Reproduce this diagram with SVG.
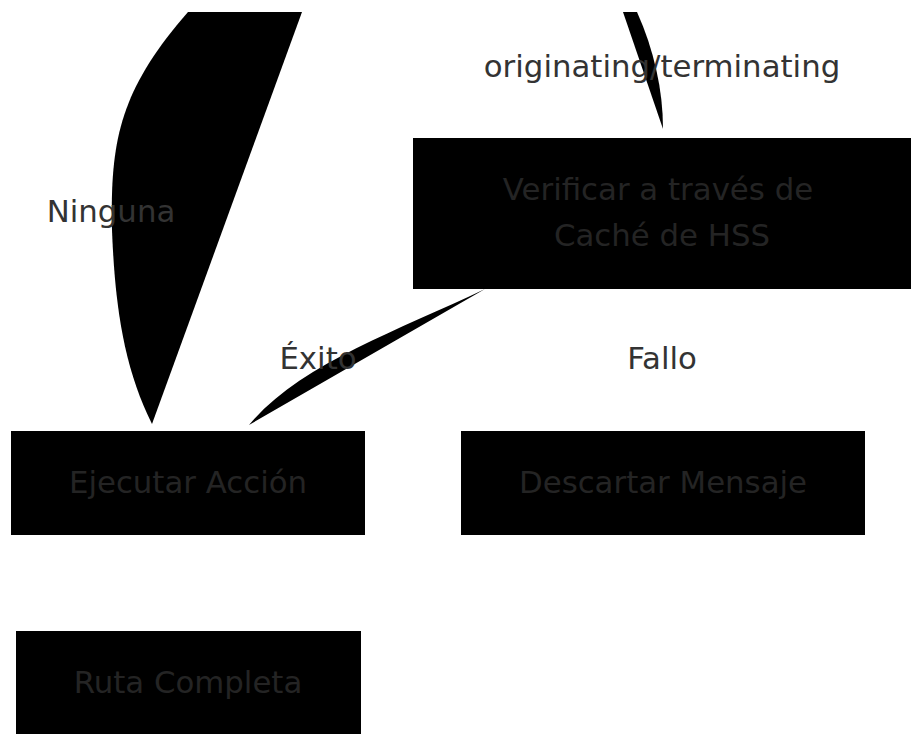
<svg xmlns="http://www.w3.org/2000/svg" width="911" height="734" viewBox="0 0 911 734">
<style>
  .node rect { fill: #000; stroke: none; }
  .node text { font-family: "DejaVu Sans", sans-serif; font-size: 30.8px; fill: #242424; text-anchor: middle; }
  .lbl { font-family: "DejaVu Sans", sans-serif; font-size: 30.8px; fill: #333; text-anchor: middle; }
  .edge { fill: #000; stroke: none; }
</style>
<rect width="911" height="734" fill="#fff"/>
<g id="edges">
  <path class="edge" d="M188,12 C120,90 110,140 112,230 C115,310 125,370 152,424 L302,12 Z"/>
  <path class="edge" d="M623,12 L663,129 C663,90 654,50 637,12 Z"/>
  <path class="edge" d="M485,289 C395,332 300,364 249,425 Z"/>
</g>
<g id="node-verificar" class="node">
  <rect x="413" y="138" width="498" height="151"/>
  <text x="658" y="200">Verificar a través de</text>
  <text x="662" y="246">Caché de HSS</text>
</g>
<g id="node-ejecutar" class="node">
  <rect x="11" y="431" width="354" height="104"/>
  <text x="188" y="493">Ejecutar Acción</text>
</g>
<g id="node-descartar" class="node">
  <rect x="461" y="431" width="404" height="104"/>
  <text x="663" y="493">Descartar Mensaje</text>
</g>
<g id="node-ruta" class="node">
  <rect x="16" y="631" width="345" height="103"/>
  <text x="188" y="693">Ruta Completa</text>
</g>
<g id="edge-labels">
  <text class="lbl" x="662" y="77">originating/terminating</text>
  <text class="lbl" x="111" y="222">Ninguna</text>
  <text class="lbl" x="318" y="369">Éxito</text>
  <text class="lbl" x="662" y="369">Fallo</text>
</g>
</svg>
